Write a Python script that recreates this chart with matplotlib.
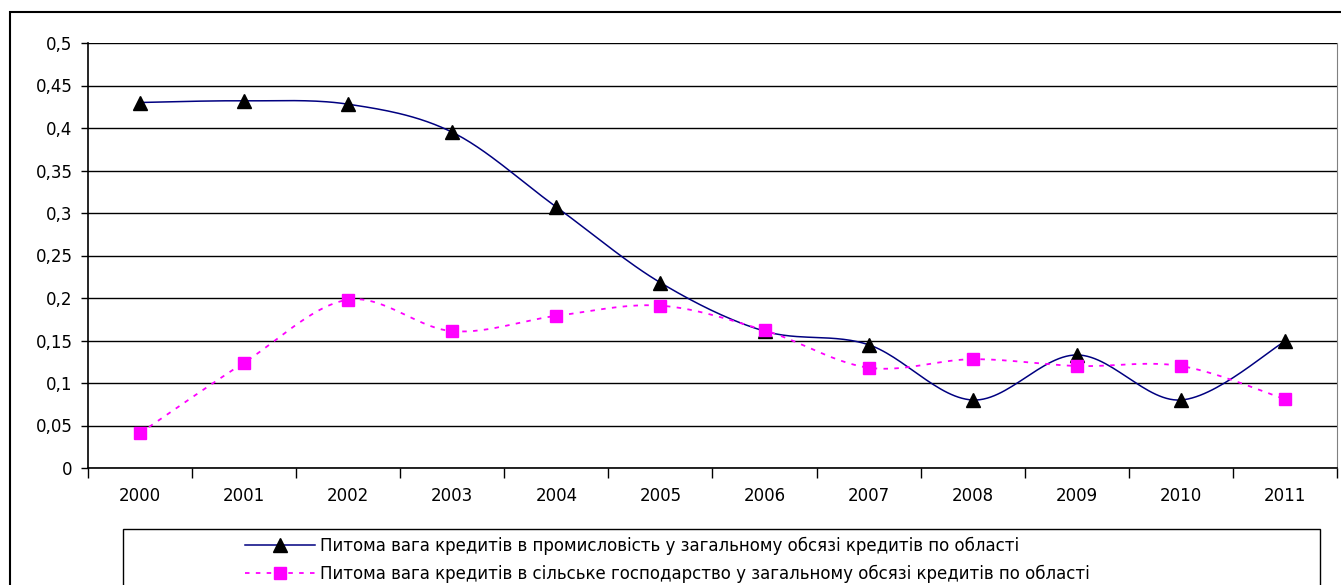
import numpy as np
import matplotlib
matplotlib.use('Agg')
import matplotlib.pyplot as plt
from matplotlib.patches import Rectangle
from matplotlib.lines import Line2D

years = ['2000', '2001', '2002', '2003', '2004', '2005', '2006', '2007', '2008', '2009', '2010', '2011']
promyslovist = [0.430, 0.432, 0.428, 0.395, 0.307, 0.218, 0.161, 0.145, 0.080, 0.133, 0.080, 0.149]
silske = [0.041, 0.124, 0.198, 0.161, 0.179, 0.191, 0.162, 0.118, 0.128, 0.120, 0.120, 0.081]

label1 = 'Питома вага кредитів в промисловість у загальному обсязі кредитів по області'
label2 = 'Питома вага кредитів в сільське господарство у загальному обсязі кредитів по області'

plt.rcParams['font.family'] = ['DejaVu Sans']
fs = 12


def smooth(xs, ys, sx=104.0, sy=850.0, n=30):
    # згладжування як в Excel (кубічні криві Безьє)
    p = np.column_stack([np.asarray(xs, float) * sx, np.asarray(ys, float) * sy])
    pp = np.vstack([p[0], p, p[-1]])
    out = []
    for i in range(1, len(pp) - 2):
        p0, p1 = pp[i], pp[i + 1]
        c1 = p0 + (pp[i + 1] - pp[i - 1]) / 6
        c2 = p1 - (pp[i + 2] - pp[i]) / 6
        t = np.linspace(0, 1, n)[:, None]
        seg = (1 - t) ** 3 * p0 + 3 * (1 - t) ** 2 * t * c1 + 3 * (1 - t) * t ** 2 * c2 + t ** 3 * p1
        out.append(seg if i == 1 else seg[1:])
    out = np.vstack(out)
    return out[:, 0] / sx, out[:, 1] / sy


fig = plt.figure(figsize=(13.41, 5.85), dpi=100)
ax = fig.add_axes([88 / 1341, 117 / 585, 1249 / 1341, 425 / 585])

x = np.arange(len(years))
sx1, sy1 = smooth(x, promyslovist)
sx2, sy2 = smooth(x, silske)

ax.plot(sx1, sy1, color='#000080', lw=1.1, zorder=3)
ax.plot(x, promyslovist, ls='none', marker='^', ms=10, color='black', zorder=4)
ax.plot(sx2, sy2, color='#FF00FF', lw=1.3, ls=(0, (2.5, 3.5)), zorder=3)
ax.plot(x, silske, ls='none', marker='s', ms=9, color='#FF00FF', zorder=4)

ax.set_xlim(-0.5, len(years) - 0.5)
ax.set_ylim(0, 0.5)
yt = np.arange(0, 0.501, 0.05)
ax.set_yticks(yt)
ax.set_yticklabels([('%g' % round(v, 2)).replace('.', ',') for v in yt], fontsize=fs)
ax.yaxis.grid(True, color='black', lw=1.0)
ax.set_axisbelow(True)
ax.set_xticks(np.arange(-0.5, len(years), 1))
ax.set_xticklabels([])
ax.set_xticks(x, minor=True)
ax.set_xticklabels(years, minor=True, fontsize=fs)
ax.tick_params(axis='x', which='major', length=7, width=1, direction='out')
ax.tick_params(axis='x', which='minor', length=0, pad=14)
ax.tick_params(axis='y', length=5, width=1, pad=6)
for s in ['left', 'bottom']:
    ax.spines[s].set_linewidth(1.2)
ax.spines['top'].set_visible(False)
ax.spines['right'].set_color('#808080')

# рамка діаграми
fig.patches.append(Rectangle((10 / 1341, -0.1), 1.2, 1 - 12 / 585 + 0.1, transform=fig.transFigure,
                             fill=False, ec='black', lw=1.5))
# рамка легенди
fig.patches.append(Rectangle((123 / 1341, -0.1), (1320 - 123) / 1341, 1 - 529 / 585 + 0.1,
                             transform=fig.transFigure, fill=False, ec='black', lw=1.0))

h1 = Line2D([], [], color='#000080', lw=1.1, marker='^', ms=10, mfc='black', mec='black')
h2 = Line2D([], [], color='#FF00FF', lw=1.3, ls=(0, (2.5, 3.5)), marker='s', ms=9, mfc='#FF00FF', mec='#FF00FF')
fig.legend([h1, h2], [label1, label2], loc='upper left', bbox_to_anchor=(242 / 1341, 1 - 533 / 585),
           frameon=False, fontsize=fs, handlelength=4.2, handletextpad=0.3, labelspacing=0.62,
           borderpad=0.2, borderaxespad=0)

fig.savefig('out.png', dpi=100)
